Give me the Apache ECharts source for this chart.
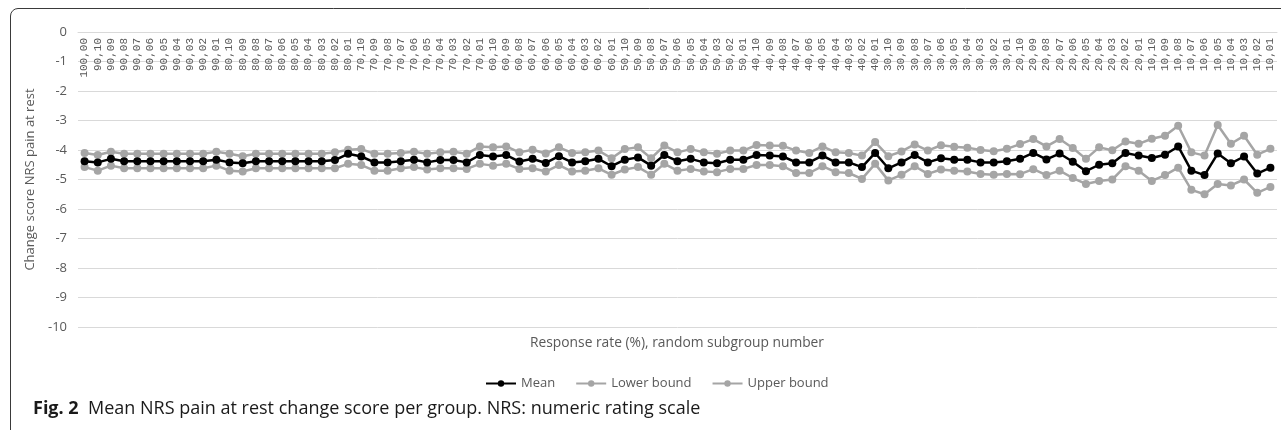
<!DOCTYPE html>
<html>
<head>
<meta charset="utf-8">
<title>Mean NRS pain at rest change score per group</title>
<script src="https://cdn.jsdelivr.net/npm/echarts@6/dist/echarts.min.js"></script>
<style>
  html, body { margin: 0; padding: 0; background: #fff; }
  #chart { width: 1281px; height: 430px; }
</style>
</head>
<body>
<div id="chart"></div>
<script>
// Subgroups: response rate (%) and random subgroup number
const categories = [
  '100,00',
  '90,10','90,09','90,08','90,07','90,06','90,05','90,04','90,03','90,02','90,01',
  '80,10','80,09','80,08','80,07','80,06','80,05','80,04','80,03','80,02','80,01',
  '70,10','70,09','70,08','70,07','70,06','70,05','70,04','70,03','70,02','70,01',
  '60,10','60,09','60,08','60,07','60,06','60,05','60,04','60,03','60,02','60,01',
  '50,10','50,09','50,08','50,07','50,06','50,05','50,04','50,03','50,02','50,01',
  '40,10','40,09','40,08','40,07','40,06','40,05','40,04','40,03','40,02','40,01',
  '30,10','30,09','30,08','30,07','30,06','30,05','30,04','30,03','30,02','30,01',
  '20,10','20,09','20,08','20,07','20,06','20,05','20,04','20,03','20,02','20,01',
  '10,10','10,09','10,08','10,07','10,06','10,05','10,04','10,03','10,02','10,01'
];

// Mean change score and its confidence bounds per subgroup
const meanValues = [
  -4.38,
  -4.42,-4.30,-4.38,-4.38,-4.38,-4.38,-4.38,-4.38,-4.38,-4.33,
  -4.42,-4.45,-4.38,-4.38,-4.38,-4.38,-4.38,-4.38,-4.34,-4.13,
  -4.22,-4.42,-4.42,-4.38,-4.33,-4.42,-4.34,-4.34,-4.42,-4.17,
  -4.22,-4.17,-4.39,-4.30,-4.44,-4.21,-4.42,-4.38,-4.30,-4.55,
  -4.33,-4.25,-4.53,-4.17,-4.38,-4.30,-4.42,-4.45,-4.33,-4.33,
  -4.17,-4.19,-4.22,-4.42,-4.42,-4.19,-4.42,-4.42,-4.58,-4.10,
  -4.62,-4.42,-4.17,-4.42,-4.28,-4.33,-4.33,-4.42,-4.42,-4.38,
  -4.30,-4.10,-4.32,-4.12,-4.40,-4.72,-4.50,-4.45,-4.10,-4.19,
  -4.27,-4.16,-3.88,-4.70,-4.85,-4.12,-4.45,-4.22,-4.80,-4.60
];

const lowerValues = [
  -4.58,
  -4.70,-4.53,-4.62,-4.62,-4.62,-4.62,-4.62,-4.62,-4.62,-4.53,
  -4.70,-4.73,-4.62,-4.62,-4.62,-4.62,-4.62,-4.62,-4.62,-4.47,
  -4.51,-4.70,-4.70,-4.62,-4.58,-4.66,-4.62,-4.62,-4.64,-4.47,
  -4.53,-4.47,-4.64,-4.62,-4.73,-4.51,-4.73,-4.70,-4.62,-4.84,
  -4.66,-4.58,-4.84,-4.47,-4.70,-4.64,-4.73,-4.75,-4.64,-4.64,
  -4.51,-4.51,-4.55,-4.78,-4.78,-4.55,-4.75,-4.78,-4.98,-4.47,
  -5.03,-4.84,-4.55,-4.81,-4.66,-4.70,-4.73,-4.81,-4.84,-4.81,
  -4.82,-4.65,-4.85,-4.70,-4.95,-5.15,-5.05,-5.00,-4.55,-4.70,
  -5.05,-4.85,-4.60,-5.35,-5.50,-5.15,-5.20,-5.00,-5.45,-5.25
];

const upperValues = [
  -4.10,
  -4.17,-4.06,-4.13,-4.13,-4.13,-4.13,-4.13,-4.13,-4.13,-4.06,
  -4.13,-4.21,-4.13,-4.13,-4.13,-4.13,-4.13,-4.13,-4.08,-3.99,
  -3.97,-4.13,-4.13,-4.10,-4.06,-4.13,-4.08,-4.06,-4.13,-3.88,
  -3.91,-3.88,-4.08,-3.99,-4.12,-3.91,-4.10,-4.08,-4.02,-4.28,
  -3.97,-3.91,-4.28,-3.85,-4.08,-3.97,-4.08,-4.13,-4.02,-4.02,
  -3.83,-3.85,-3.86,-4.02,-4.10,-3.88,-4.08,-4.10,-4.19,-3.73,
  -4.21,-4.05,-3.81,-4.02,-3.84,-3.89,-3.92,-4.00,-4.04,-3.96,
  -3.80,-3.63,-3.88,-3.63,-3.93,-4.30,-3.91,-4.01,-3.71,-3.79,
  -3.62,-3.52,-3.18,-4.08,-4.19,-3.15,-3.79,-3.52,-4.16,-3.96
];

const yTicks = { min: -10, max: 0, interval: 1 };

const labelFont = 'Open Sans, Noto Sans, sans-serif';
const tickFont = 'Liberation Mono, DejaVu Sans Mono, monospace';
const textGrey = '#595959';
const boundGrey = '#A5A5A5';

const chart = echarts.init(document.getElementById('chart'), null, { renderer: 'canvas' });

function lineSeries(name, data, color, z) {
  return {
    name: name,
    type: 'line',
    data: data,
    symbol: 'circle',
    symbolSize: 8,
    z: z,
    lineStyle: { color: color, width: 2.5 },
    itemStyle: { color: color },
    emphasis: { disabled: true },
    animation: false
  };
}

const frameStroke = { stroke: '#3a3a3a', lineWidth: 1, fill: null };

chart.setOption({
  animation: false,
  grid: { left: 78, right: 4, top: 32, bottom: 103, containLabel: false },
  legend: {
    top: 372,
    left: 480,
    itemWidth: 30,
    itemHeight: 8,
    itemGap: 20,
    textStyle: { color: textGrey, fontSize: 13, fontFamily: labelFont },
    data: ['Mean', 'Lower bound', 'Upper bound']
  },
  xAxis: {
    type: 'category',
    data: categories,
    position: 'top',
    boundaryGap: true,
    axisLine: { show: true, lineStyle: { color: '#D9D9D9', width: 1 } },
    axisTick: { show: false },
    axisLabel: {
      inside: true,
      interval: 0,
      rotate: 90,
      margin: 6,
      color: textGrey,
      fontSize: 11,
      fontFamily: tickFont
    },
    splitLine: { show: false }
  },
  yAxis: {
    type: 'value',
    min: yTicks.min,
    max: yTicks.max,
    interval: yTicks.interval,
    name: 'Change score NRS pain at rest',
    nameLocation: 'middle',
    nameGap: 40,
    nameTextStyle: { color: textGrey, fontSize: 13, fontFamily: labelFont },
    axisLine: { show: false },
    axisTick: { show: false },
    axisLabel: { color: textGrey, fontSize: 13, fontFamily: labelFont, margin: 11 },
    splitLine: { lineStyle: { color: '#D9D9D9', width: 1 } }
  },
  graphic: [
    // figure frame: left and top edges with a rounded top-left corner
    { type: 'line', silent: true, shape: { x1: 10.5, y1: 16, x2: 10.5, y2: 430 }, style: frameStroke },
    { type: 'line', silent: true, shape: { x1: 18, y1: 8.5, x2: 1281, y2: 8.5 }, style: frameStroke },
    {
      type: 'arc', silent: true,
      shape: { cx: 18, cy: 16, r: 7.5, startAngle: Math.PI, endAngle: Math.PI * 1.5 },
      style: frameStroke
    },
    {
      type: 'text',
      silent: true,
      style: {
        text: 'Response rate (%), random subgroup number',
        x: 677,
        y: 343,
        align: 'center',
        verticalAlign: 'middle',
        textAlign: 'center',
        textVerticalAlign: 'middle',
        fill: textGrey,
        font: '13.8px ' + labelFont
      }
    },
    {
      type: 'text',
      silent: true,
      left: 33,
      top: 400,
      style: {
        rich: {
          b: { fontWeight: 'bold', fontSize: 18, fontFamily: labelFont, fill: '#1a1a1a' },
          r: { fontSize: 18, fontFamily: labelFont, fill: '#1a1a1a' }
        },
        text: '{b|Fig. 2}{r|  Mean NRS pain at rest change score per group. NRS: numeric rating scale}'
      }
    }
  ],
  series: [
    lineSeries('Mean', meanValues, '#000000', 4),
    lineSeries('Lower bound', lowerValues, boundGrey, 3),
    lineSeries('Upper bound', upperValues, boundGrey, 3)
  ]
});
</script>
</body>
</html>
